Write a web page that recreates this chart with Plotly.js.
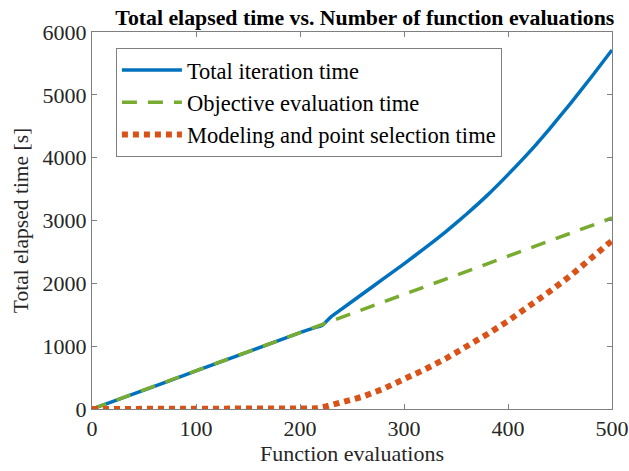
<!DOCTYPE html>
<html>
<head>
<meta charset="utf-8">
<script src="https://cdn.plot.ly/plotly-3.0.1.min.js"></script>
<style>
  html, body { margin: 0; padding: 0; background: #fff; }
  #chart { width: 629px; height: 471px; }
</style>
</head>
<body>
<div id="chart"></div>
<script>
// Number of function evaluations at which the timings were recorded
const totalEvals = [0, 50, 100, 150, 200, 215, 219, 222, 230, 240, 260, 280, 300, 320, 340, 360, 380, 400, 420, 440, 460, 480, 500];
const totalTime  = [0, 300, 606, 910, 1215, 1300, 1315, 1340, 1470, 1590, 1830, 2070, 2310, 2560, 2820, 3100, 3400, 3730, 4080, 4460, 4860, 5280, 5714];

const objEvals = [0, 50, 100, 150, 200, 220, 250, 300, 350, 400, 450, 500];
const objTime  = [0, 305, 610, 912, 1215, 1335, 1520, 1825, 2130, 2430, 2735, 3040];

const modelEvals = [0, 50, 100, 150, 200, 207, 215, 225, 240, 260, 280, 300, 320, 340, 360, 380, 400, 420, 440, 460, 480, 500];
const modelTime  = [0, 0, 0, 0, 0, 0, 10, 40, 100, 195, 320, 470, 630, 800, 990, 1190, 1400, 1630, 1870, 2120, 2390, 2680];

const seriesNames = ['Total iteration time', 'Objective evaluation time', 'Modeling and point selection time'];
const xTicks = [0, 100, 200, 300, 400, 500];
const yTicks = [0, 1000, 2000, 3000, 4000, 5000, 6000];

const serif = "'Liberation Serif', 'Times New Roman', serif";
const axisColor = '#7f7f7f';
const textColor = '#262626';

const traces = [
  {
    x: totalEvals, y: totalTime, name: seriesNames[0],
    type: 'scatter', mode: 'lines',
    line: { color: '#0072BD', width: 3.5, shape: 'spline', smoothing: 0.4 }
  },
  {
    x: objEvals, y: objTime, name: seriesNames[1],
    type: 'scatter', mode: 'lines',
    line: { color: '#77AC30', width: 3.5, dash: '15px,11px' }
  },
  {
    x: modelEvals, y: modelTime, name: seriesNames[2],
    type: 'scatter', mode: 'lines',
    line: { color: '#D95319', width: 6, dash: '6px,5px' }
  }
];

const axisCommon = {
  showgrid: false,
  zeroline: false,
  showline: true,
  linecolor: axisColor,
  linewidth: 1,
  mirror: 'ticks',
  ticks: 'inside',
  ticklen: 5,
  tickwidth: 1,
  tickcolor: axisColor,
  tickfont: { family: serif, size: 22, color: textColor }
};

const layout = {
  width: 629,
  height: 471,
  margin: { l: 92, r: 17, t: 32, b: 62 },
  paper_bgcolor: '#fff',
  plot_bgcolor: '#fff',
  font: { family: serif, color: textColor },
  title: {
    text: '<b>Total elapsed time vs. Number of function evaluations</b>',
    font: { family: serif, size: 21.8, color: '#000' },
    x: 0.58, xanchor: 'center',
    y: 0.963, yanchor: 'middle'
  },
  xaxis: Object.assign({}, axisCommon, {
    range: [0, 500],
    tickvals: xTicks,
    ticktext: xTicks.map(String),
    title: { text: 'Function evaluations', font: { family: serif, size: 22, color: textColor }, standoff: 4 }
  }),
  yaxis: Object.assign({}, axisCommon, {
    range: [0, 6000],
    tickvals: yTicks,
    ticktext: yTicks.map(String),
    title: { text: 'Total elapsed time [s]', font: { family: serif, size: 21.5, color: textColor }, standoff: 8 }
  }),
  showlegend: true,
  legend: {
    x: 0.046, y: 0.958, xanchor: 'left', yanchor: 'top',
    bgcolor: '#fff',
    bordercolor: axisColor,
    borderwidth: 1,
    font: { family: serif, size: 22.5, color: '#000' },
    itemwidth: 60,
    tracegroupgap: 0
  }
};

Plotly.newPlot('chart', traces, layout, { displayModeBar: false, staticPlot: true });
</script>
</body>
</html>
